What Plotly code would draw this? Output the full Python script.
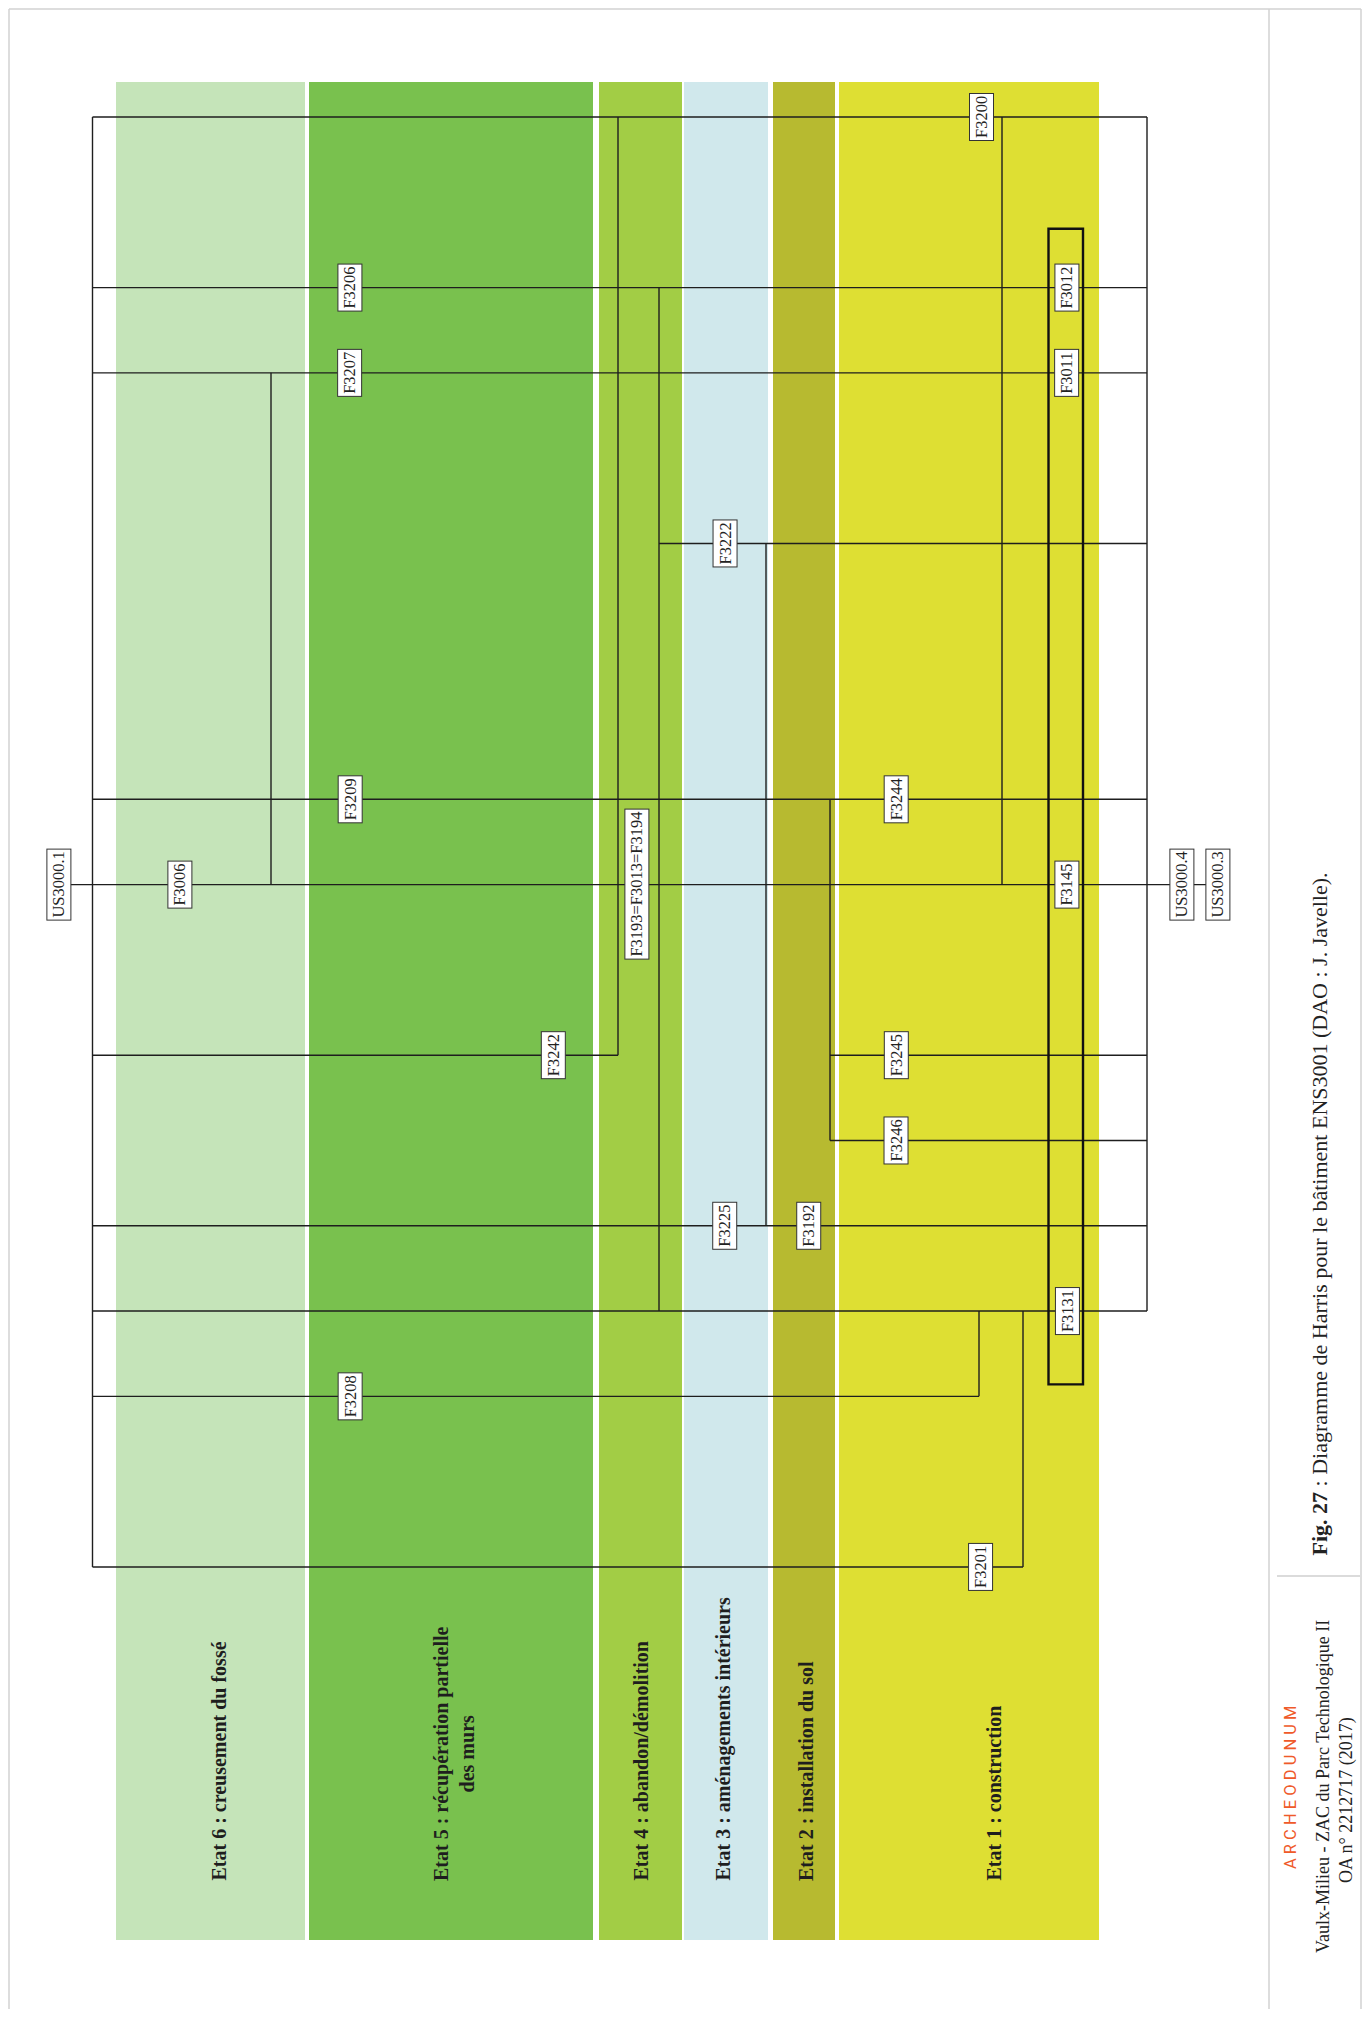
import plotly.graph_objects as go

# ---------------- data ----------------
STATES = [
    "Etat 6 : creusement du fossé",
    "Etat 5 : récupération partielle<br>des murs",
    "Etat 4 : abandon/démolition",
    "Etat 3 : aménagements intérieurs",
    "Etat 2 : installation du sol",
    "Etat 1 : construction",
]

UNITS = ["US3000.1", "F3006", "F3206", "F3207", "F3209", "F3208", "F3242",
         "F3193=F3013=F3194", "F3222", "F3225", "F3192", "F3244", "F3245",
         "F3246", "F3200", "F3201", "F3012", "F3011", "F3145", "F3131",
         "US3000.4", "US3000.3"]
UNIT_ROW = [9, 9, 2, 3, 8, 15, 11, 9, 5, 13, 13, 8, 11, 12, 0, 17, 2, 3, 9, 14, 9, 9]
UNIT_SLOT = ["us_l", "e6", "e5a", "e5a", "e5a", "e5a", "e5b", "e4", "e3", "e3", "e2",
             "e1a", "e1a", "e1a", "e1b", "e1b", "e1c", "e1c", "e1c", "e1c", "us_r1", "us_r2"]

# stratigraphic links: horizontal (row, from, to) and vertical (column, row_from, row_to)
H_LINKS = [(0, "L", "R"), (2, "L", "R"), (3, "L", "R"), (5, "c3", "R"), (8, "L", "R"),
           (9, "us_l", "us_r2"), (11, "L", "c2"), (11, "c5", "R"), (12, "c5", "R"),
           (13, "L", "R"), (14, "L", "R"), (15, "L", "c6"), (17, "L", "c8")]
V_LINKS = [("L", 0, 17), ("R", 0, 14), ("c1", 3, 9), ("c2", 0, 11), ("c3", 2, 14),
           ("c4", 5, 13), ("c5", 8, 12), ("c6", 14, 15), ("c7", 0, 9), ("c8", 14, 17)]
GROUPED = ["F3012", "F3011", "F3145", "F3131"]

CAPTION = "<b>Fig. 27</b> : Diagramme de Harris pour le bâtiment ENS3001 (DAO : J. Javelle)."
ORG = "A R C H E O D U N U M"
SITE = "Vaulx-Milieu - ZAC du Parc Technologique II"
OPERATION = "OA n° 2212717 (2017)"

# ---------------- layout geometry (page pixels) ----------------
W, H = 1370, 2017
BODY = 8                            # default html body margin
ROW0, STEP = 117.0, 85.29           # pixel of row 0 and row spacing


def r(px):
    return (px - ROW0) / STEP


STATE_COLORS = ["#C5E4B9", "#79C14E", "#A2CD45", "#D0E8EC", "#B7BA30", "#DEDF33"]
BAND_X = [(116, 305), (309, 593), (599, 682), (684, 768), (773, 835), (839, 1099)]
BAND_TOP, BAND_BOT = 82, 1940
STATE_LABEL_X = [218, 454, 640, 723, 806, 993]
STATE_LABEL_BOTTOM = 1883

SLOT_X = {"us_l": 59, "e6": 180, "e5a": 350, "e5b": 553, "e4": 637, "e3": 725,
          "e2": 809, "e1a": 896, "e1b": 981, "e1c": 1067, "us_r1": 1182, "us_r2": 1218,
          "L": 92.5, "R": 1147, "c1": 271, "c2": 618, "c3": 659, "c4": 766,
          "c5": 830, "c6": 979, "c7": 1002, "c8": 1023}

LINE_COLOR = "#1e1e1e"
SERIF = "Liberation Serif"
FRAME = "#d2d2d2"

fig = go.Figure()
shapes = []
annotations = []

# state bands
for (x0, x1), col in zip(BAND_X, STATE_COLORS):
    shapes.append(dict(type="rect", xref="x", yref="y", x0=x0, x1=x1,
                       y0=r(BAND_TOP), y1=r(BAND_BOT), fillcolor=col,
                       line=dict(width=0), layer="below"))

# links
lx, ly = [], []
for row, a, b in H_LINKS:
    lx += [SLOT_X[a], SLOT_X[b], None]
    ly += [row, row, None]
for c, r0, r1 in V_LINKS:
    lx += [SLOT_X[c], SLOT_X[c], None]
    ly += [r0, r1, None]
fig.add_trace(go.Scatter(x=lx, y=ly, mode="lines", hoverinfo="skip",
                         line=dict(color=LINE_COLOR, width=1.4), showlegend=False))

# grouping box around contemporaneous units
g_rows = [UNIT_ROW[UNITS.index(u)] for u in GROUPED]
g_x = SLOT_X[UNIT_SLOT[UNITS.index(GROUPED[0])]]
shapes.append(dict(type="rect", xref="x", yref="y", x0=g_x - 18.5, x1=g_x + 16,
                   y0=min(g_rows) - 0.69, y1=max(g_rows) + 0.86,
                   line=dict(color="#111111", width=2.4), fillcolor="rgba(0,0,0,0)"))

# unit labels
for name, row, slot in zip(UNITS, UNIT_ROW, UNIT_SLOT):
    annotations.append(dict(x=SLOT_X[slot], y=row, xref="x", yref="y", text=name,
                            showarrow=False, textangle=-90,
                            font=dict(family=SERIF, size=16.5, color="#222"),
                            bgcolor="white", bordercolor="#333", borderwidth=1,
                            borderpad=2, xanchor="center", yanchor="middle"))

# state labels
for txt, x in zip(STATES, STATE_LABEL_X):
    annotations.append(dict(x=x, y=r(STATE_LABEL_BOTTOM), xref="x", yref="y",
                            text="<b>" + txt + "</b>", showarrow=False, textangle=-90,
                            align="center",
                            font=dict(family=SERIF, size=20, color="#1e1e1e"),
                            xanchor="center", yanchor="bottom"))

# page frame & caption block (kept just inside the drawable canvas)
fx0, fx1, fy0, fy1 = BODY + 1, W - BODY - 1, BODY + 1, H - BODY
shapes.append(dict(type="line", xref="x", yref="y", x0=fx0, x1=fx0, y0=r(fy0), y1=r(fy1),
                   line=dict(color=FRAME, width=1.5)))
shapes.append(dict(type="line", xref="x", yref="y", x0=fx0, x1=fx1, y0=r(fy0), y1=r(fy0),
                   line=dict(color=FRAME, width=1.5)))
shapes.append(dict(type="line", xref="x", yref="y", x0=fx1, x1=fx1, y0=r(fy0), y1=r(fy1),
                   line=dict(color=FRAME, width=1.5)))
shapes.append(dict(type="line", xref="x", yref="y", x0=1269, x1=1269, y0=r(fy0), y1=r(fy1),
                   line=dict(color=FRAME, width=1.5)))
shapes.append(dict(type="line", xref="x", yref="y", x0=1277, x1=1360, y0=r(1576), y1=r(1576),
                   line=dict(color="#cfcfcf", width=1.5)))

annotations.append(dict(x=1319, y=r(1558), xref="x", yref="y", text=CAPTION,
                        showarrow=False, textangle=-90,
                        font=dict(family=SERIF, size=22, color="#222"),
                        xanchor="center", yanchor="bottom"))
annotations.append(dict(x=1290, y=r(1787), xref="x", yref="y", text=ORG,
                        showarrow=False, textangle=-90,
                        font=dict(family="Roboto", size=16.5, color="#EF5A2A"),
                        xanchor="center", yanchor="middle"))
annotations.append(dict(x=1323, y=r(1787), xref="x", yref="y", text=SITE,
                        showarrow=False, textangle=-90,
                        font=dict(family=SERIF, size=18, color="#222"),
                        xanchor="center", yanchor="middle"))
annotations.append(dict(x=1346, y=r(1800), xref="x", yref="y", text=OPERATION,
                        showarrow=False, textangle=-90,
                        font=dict(family=SERIF, size=18, color="#222"),
                        xanchor="center", yanchor="middle"))

fig.update_layout(
    width=W - 2 * BODY, height=H - 2 * BODY, margin=dict(l=0, r=0, t=0, b=0),
    paper_bgcolor="white", plot_bgcolor="white",
    shapes=shapes, annotations=annotations, showlegend=False,
    xaxis=dict(range=[BODY, W - BODY], visible=False, fixedrange=True),
    yaxis=dict(range=[r(H - BODY), r(BODY)], visible=False, fixedrange=True),
)

fig.write_html("out.html")
